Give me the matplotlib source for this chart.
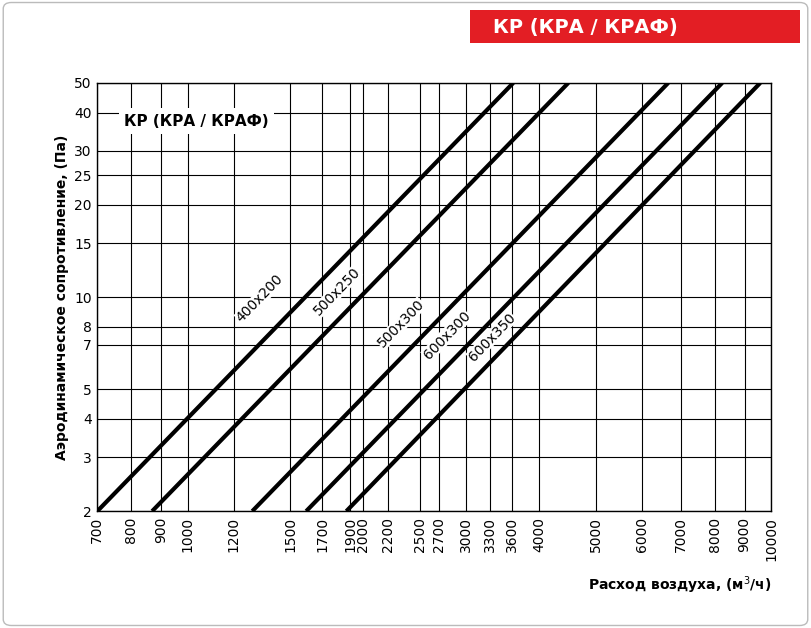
import matplotlib.pyplot as plt
from matplotlib.patches import FancyBboxPatch, Rectangle

x_ticks = [700, 800, 900, 1000, 1200, 1500, 1700, 1900, 2000, 2200, 2500, 2700,
           3000, 3300, 3600, 4000, 5000, 6000, 7000, 8000, 9000, 10000]
y_ticks = [2, 3, 4, 5, 7, 8, 10, 15, 20, 25, 30, 40, 50]

sizes = ["400x200", "500x250", "500x300", "600x300", "600x350"]
flow_at_2pa = [700, 869, 1290, 1596, 1870]
flow_at_50pa = [3613, 4490, 6660, 8240, 9575]
label_xy = [(1330, 9.9), (1800, 10.4), (2320, 8.2), (2780, 7.5), (3320, 7.4)]

fig = plt.figure(figsize=(8.11, 6.28), dpi=100)
ax = fig.add_axes([0.12, 0.186, 0.831, 0.682])
ax.set_xscale("log")
ax.set_yscale("log")
ax.set_xlim(700, 10000)
ax.set_ylim(2, 50)

ax.set_xticks(x_ticks)
ax.set_xticklabels([str(v) for v in x_ticks], rotation=90, fontsize=10)
ax.set_yticks(y_ticks)
ax.set_yticklabels([str(v) for v in y_ticks], fontsize=10)
ax.minorticks_off()
ax.tick_params(length=0, pad=4)
ax.grid(True, color="black", linewidth=0.8)
for s in ax.spines.values():
    s.set_linewidth(1.0)

for name, q0, q1, (lx, ly) in zip(sizes, flow_at_2pa, flow_at_50pa, label_xy):
    ax.plot([q0, q1], [2, 50], color="black", linewidth=3, solid_capstyle="butt")
    ax.text(lx, ly, name, rotation=46, ha="center", va="center", fontsize=10,
            bbox=dict(facecolor="white", edgecolor="none", pad=0.2))

ax.text(0.04, 0.91, "КР (КРА / КРАФ)", transform=ax.transAxes, fontsize=11,
        fontweight="bold", ha="left", va="center",
        bbox=dict(facecolor="white", edgecolor="none", pad=4))

ax.set_xlabel("Расход воздуха, (м$^3$/ч)", fontsize=10, fontweight="bold", loc="right",
              labelpad=10)
ax.set_ylabel("Аэродинамическое сопротивление, (Па)", fontsize=10, fontweight="bold")

# red header
fig.patches.append(Rectangle((470 / 811, 1 - 43 / 628), 330 / 811, 33 / 628,
                             transform=fig.transFigure, facecolor="#e31e24",
                             edgecolor="none"))
fig.text(585 / 811, 1 - 27 / 628, "КР (КРА / КРАФ)", color="white", fontsize=14,
         fontweight="bold", ha="center", va="center")
fig.patches.append(FancyBboxPatch((0.004, 0.004), 0.992, 0.992,
                                  boxstyle="round,pad=0,rounding_size=0.01",
                                  transform=fig.transFigure, facecolor="none",
                                  edgecolor="#bbbbbb", linewidth=1))

fig.savefig("out.png", dpi=100)
